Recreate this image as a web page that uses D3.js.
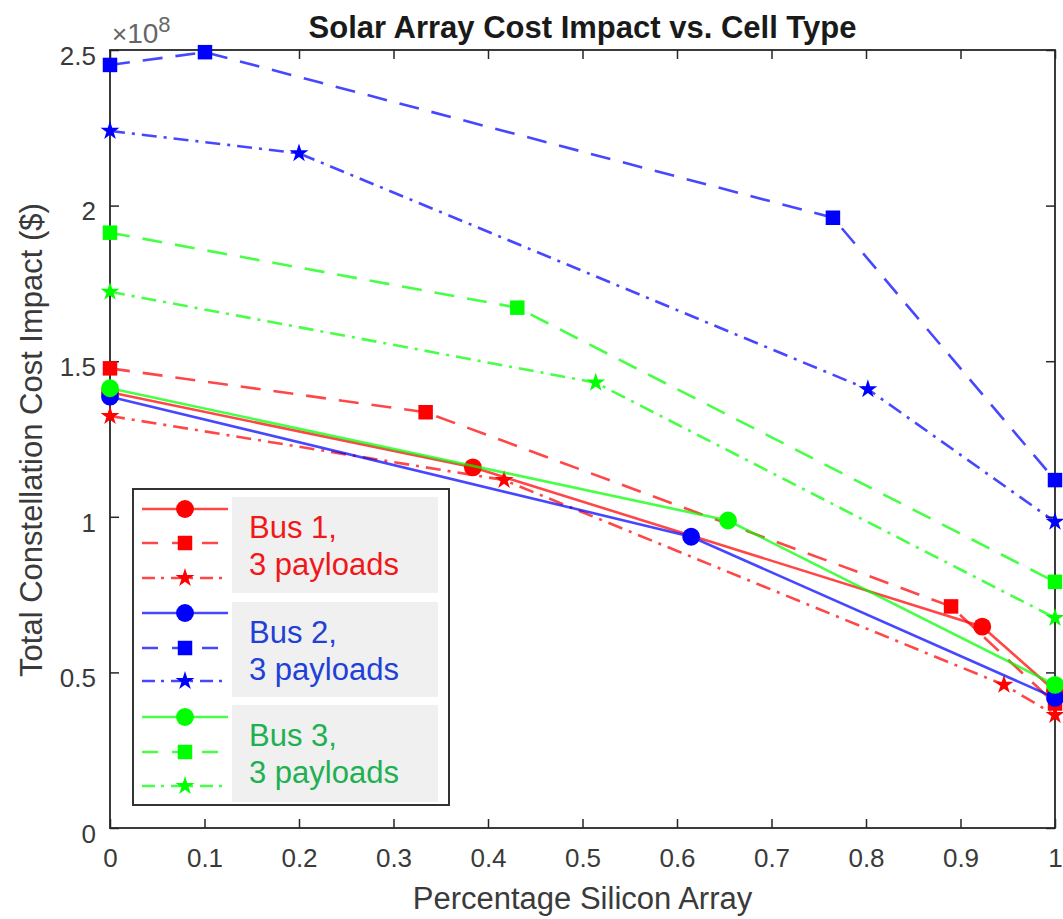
<!DOCTYPE html>
<html>
<head>
<meta charset="utf-8">
<script src="https://cdn.jsdelivr.net/npm/d3@7"></script>
<style>
  body { margin: 0; background: #fff; }
  text { font-family: "Liberation Sans", Arial, sans-serif; }
</style>
</head>
<body>
<div id="chart"></div>
<script>
// percentage silicon (x) and cost impact in dollars (y)
const bus1CircleX = [0, 0.384, 0.923, 1];
const bus1CircleY = [1.40e8, 1.159e8, 0.647e8, 0.44e8];
const bus1SquareX = [0, 0.334, 0.890, 1];
const bus1SquareY = [1.477e8, 1.336e8, 0.712e8, 0.40e8];
const bus1StarX = [0, 0.417, 0.946, 1];
const bus1StarY = [1.324e8, 1.118e8, 0.46e8, 0.363e8];

const bus2CircleX = [0, 0.615, 1];
const bus2CircleY = [1.386e8, 0.936e8, 0.418e8];
const bus2SquareX = [0, 0.1005, 0.765, 1];
const bus2SquareY = [2.452e8, 2.493e8, 1.961e8, 1.118e8];
const bus2StarX = [0, 0.2, 0.802, 1];
const bus2StarY = [2.240e8, 2.168e8, 1.410e8, 0.984e8];

const bus3CircleX = [0, 0.654, 1];
const bus3CircleY = [1.413e8, 0.988e8, 0.46e8];
const bus3SquareX = [0, 0.431, 1];
const bus3SquareY = [1.913e8, 1.672e8, 0.791e8];
const bus3StarX = [0, 0.514, 1];
const bus3StarY = [1.723e8, 1.431e8, 0.675e8];

const xTicks = [0, 0.1, 0.2, 0.3, 0.4, 0.5, 0.6, 0.7, 0.8, 0.9, 1];
const yTicks = [0, 0.5e8, 1e8, 1.5e8, 2e8, 2.5e8];
const busNames = ["Bus 1,", "Bus 2,", "Bus 3,"];
const payloadLabel = "3 payloads";

const lineColors = ["#ff0000", "#0000ff", "#00ff00"];
const textColors = ["#f01818", "#2040d8", "#20b050"];
const axisColor = "#262626";
const labelColor = "#3a3a3a";

const series = [
    {x: bus1CircleX, y: bus1CircleY, bus: 0, kind: "circle"},
    {x: bus1SquareX, y: bus1SquareY, bus: 0, kind: "square"},
    {x: bus1StarX, y: bus1StarY, bus: 0, kind: "star"},
    {x: bus2CircleX, y: bus2CircleY, bus: 1, kind: "circle"},
    {x: bus2SquareX, y: bus2SquareY, bus: 1, kind: "square"},
    {x: bus2StarX, y: bus2StarY, bus: 1, kind: "star"},
    {x: bus3CircleX, y: bus3CircleY, bus: 2, kind: "circle"},
    {x: bus3SquareX, y: bus3SquareY, bus: 2, kind: "square"},
    {x: bus3StarX, y: bus3StarY, bus: 2, kind: "star"}
];

const dashes = {circle: null, square: "20,13", star: "15,7,3,7"};
const symbols = {
    circle: d3.symbol().type(d3.symbolCircle).size(250),
    square: d3.symbol().type(d3.symbolSquare).size(210),
    star: d3.symbol().type(d3.symbolStar).size(110)
};

const size = {width: 1063, height: 919};
const margin = {top: 50, right: 8, bottom: 91, left: 110};
const width = size.width - margin.left - margin.right;
const height = size.height - margin.top - margin.bottom;

const svg = d3.select("#chart").append("svg")
    .attr("width", size.width)
    .attr("height", size.height);

const g = svg.append("g")
    .attr("transform", "translate(" + margin.left + "," + margin.top + ")");

const xScale = d3.scaleLinear().domain([0, 1]).range([0, width]);
const yScale = d3.scaleLinear().domain([0, 2.5e8]).range([height, 0]);

const fmtX = (d) => String(+d.toFixed(1));
const fmtY = (d) => String(+(d / 1e8).toFixed(1));

function styleAxis(sel) {
    sel.select(".domain").remove();
    sel.selectAll(".tick line").attr("stroke", axisColor).attr("stroke-width", 1.5);
    sel.selectAll(".tick text").attr("fill", labelColor).attr("font-size", "26px");
}

// ticks point inward like MATLAB
g.append("g").attr("transform", "translate(0," + height + ")")
    .call(d3.axisBottom(xScale).tickValues(xTicks).tickFormat(fmtX).tickSizeInner(-9).tickPadding(21))
    .call(styleAxis);
g.append("g")
    .call(d3.axisTop(xScale).tickValues(xTicks).tickFormat("").tickSizeInner(-9))
    .call(styleAxis);
g.append("g")
    .call(d3.axisLeft(yScale).tickValues(yTicks).tickFormat(fmtY).tickSizeInner(-9).tickPadding(14))
    .call(styleAxis)
    .selectAll(".tick text").attr("dy", "0.55em");
g.append("g").attr("transform", "translate(" + width + ",0)")
    .call(d3.axisRight(yScale).tickValues(yTicks).tickFormat("").tickSizeInner(-9))
    .call(styleAxis);

g.append("rect")
    .attr("width", width).attr("height", height)
    .attr("fill", "none").attr("stroke", axisColor).attr("stroke-width", 1.8);

// exponent label
const expo = g.append("text").attr("x", 2).attr("y", -7).attr("fill", "#666").attr("font-size", "28px");
expo.append("tspan").attr("font-size", "26px").text("\u00d7");
expo.append("tspan").text("10");
expo.append("tspan").attr("font-size", "22px").attr("dy", "-11").text("8");

// lines and markers
const line = d3.line().x((d) => xScale(d[0])).y((d) => yScale(d[1]));

series.forEach((s) => {
    const pts = s.x.map((v, i) => [v, s.y[i]]);
    const sg = g.append("g");
    sg.append("path")
        .attr("d", line(pts))
        .attr("fill", "none")
        .attr("stroke", lineColors[s.bus])
        .attr("stroke-opacity", 0.72)
        .attr("stroke-width", 2.6)
        .attr("stroke-dasharray", dashes[s.kind]);
    sg.selectAll("path.marker")
        .data(pts)
        .join("path")
        .attr("class", "marker")
        .attr("d", symbols[s.kind])
        .attr("transform", (d) => "translate(" + xScale(d[0]) + "," + yScale(d[1]) + ")")
        .attr("fill", lineColors[s.bus]);
});

// title and axis labels
svg.append("text")
    .attr("x", margin.left + width / 2).attr("y", 38)
    .attr("text-anchor", "middle")
    .attr("font-size", "31px").attr("font-weight", "bold")
    .attr("fill", "#1a1a1a")
    .text("Solar Array Cost Impact vs. Cell Type");

svg.append("text")
    .attr("x", margin.left + width / 2).attr("y", 909)
    .attr("text-anchor", "middle")
    .attr("font-size", "31px").attr("fill", labelColor)
    .text("Percentage Silicon Array");

svg.append("text")
    .attr("transform", "translate(42,440) rotate(-90)")
    .attr("text-anchor", "middle")
    .attr("font-size", "31px").attr("fill", labelColor)
    .text("Total Constellation Cost Impact ($)");

// legend
const legend = svg.append("g");
legend.append("rect")
    .attr("x", 133).attr("y", 489).attr("width", 316).attr("height", 316)
    .attr("fill", "#fff").attr("stroke", "#333").attr("stroke-width", 2);

const rowY = [509, 543, 578, 613, 648, 681, 717, 752, 786];
const blockTop = [497, 602, 705];
const blockBottom = [593, 697, 802];

busNames.forEach((name, b) => {
    legend.append("rect")
        .attr("x", 232).attr("y", blockTop[b])
        .attr("width", 206).attr("height", blockBottom[b] - blockTop[b])
        .attr("fill", "#f0f0f0");
    legend.append("text")
        .attr("x", 249).attr("y", blockTop[b] + 41)
        .attr("font-size", "31px").attr("fill", textColors[b])
        .text(name);
    legend.append("text")
        .attr("x", 249).attr("y", blockTop[b] + 78)
        .attr("font-size", "31px").attr("fill", textColors[b])
        .text(payloadLabel);
});

series.forEach((s, i) => {
    const y = rowY[i];
    legend.append("line")
        .attr("x1", 142).attr("x2", 228).attr("y1", y).attr("y2", y)
        .attr("stroke", lineColors[s.bus])
        .attr("stroke-opacity", 0.72)
        .attr("stroke-width", 2.6)
        .attr("stroke-dasharray", s.kind === "circle" ? null : (s.kind === "square" ? "16,14" : "13,6,3,7"));
    legend.append("path")
        .attr("d", symbols[s.kind])
        .attr("transform", "translate(185," + y + ")")
        .attr("fill", lineColors[s.bus]);
});
</script>
</body>
</html>
